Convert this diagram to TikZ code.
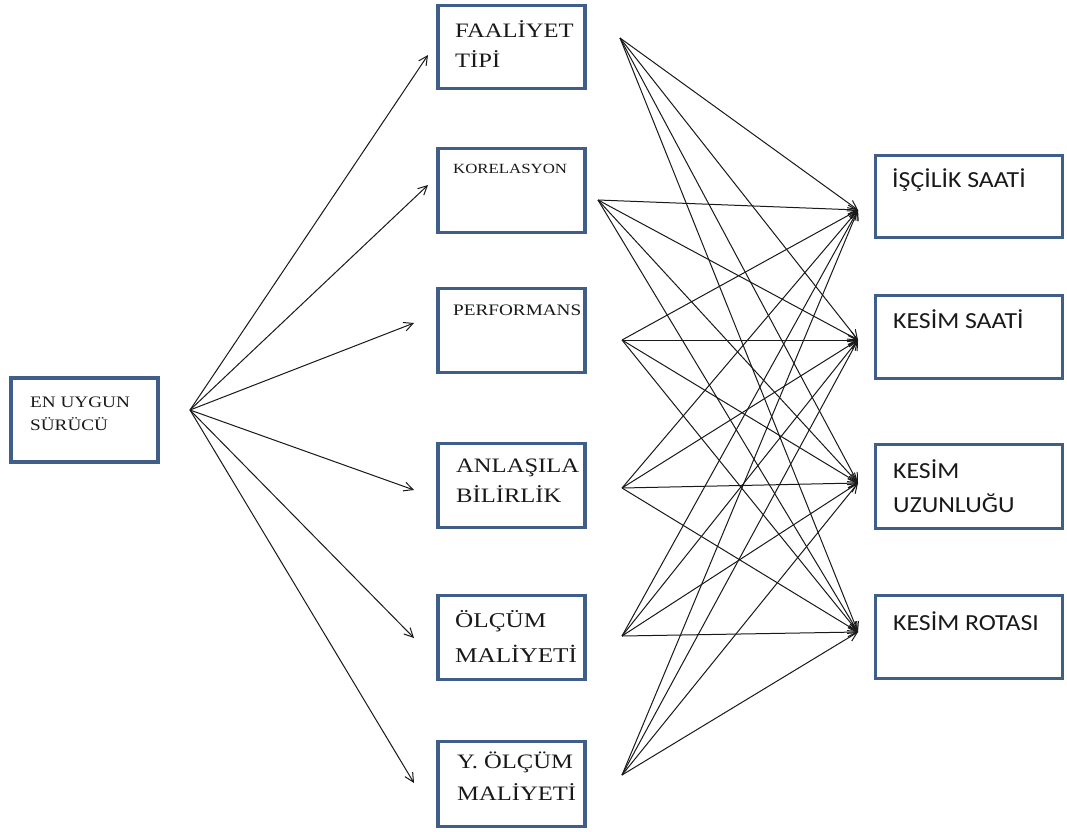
\documentclass[tikz,border=0pt]{standalone}
\usepackage{fontspec}
\usetikzlibrary{arrows.meta}
\newfontfamily\serifw[FakeStretch=1.2]{Liberation Serif}
\newfontfamily\sansw[FakeStretch=1.12]{Carlito}
\definecolor{boxblue}{HTML}{3F5E88}
\begin{document}
\begin{tikzpicture}[x=1pt,y=-1pt,
  box/.style={draw=boxblue,line width=3.6pt,fill=white,inner sep=0pt},
  txt/.style={anchor=base west,inner sep=0pt,text=black!90},
  con/.style={line width=1pt,draw=black!90,-{Straight Barb[length=9pt,width=9pt,line width=1pt]}}]
\useasboundingbox (0,0) rectangle (1067,831);
\fill[white] (0,0) rectangle (1067,831);
% boxes
\node[box,minimum width=147pt,minimum height=84pt] (en) at (84.5,420) {};
\node[box,minimum width=147pt,minimum height=83pt] (fa) at (511.5,47) {};
\node[box,minimum width=147pt,minimum height=84pt] (ko) at (511.5,190.5) {};
\node[box,minimum width=147pt,minimum height=84pt] (pe) at (511.5,330.5) {};
\node[box,minimum width=147pt,minimum height=84pt] (an) at (511.5,485.5) {};
\node[box,minimum width=147pt,minimum height=84pt] (ol) at (511.5,637.5) {};
\node[box,minimum width=147pt,minimum height=85pt] (yo) at (511.5,784) {};
\node[box,minimum width=187pt,minimum height=82pt] (is) at (969,196.5) {};
\node[box,minimum width=187pt,minimum height=83pt] (ks) at (969,337) {};
\node[box,minimum width=187pt,minimum height=84pt] (ku) at (969,486.5) {};
\node[box,minimum width=187pt,minimum height=83pt] (kr) at (969,637) {};
% texts
\node[txt,font=\serifw\fontsize{16}{18}\selectfont] (en1) at (30,407) {EN UYGUN};
\node[txt,font=\serifw\fontsize{16}{18}\selectfont] (en2) at (30,430) {SÜRÜCÜ};
\node[txt,font=\serifw\fontsize{20.5}{24}\selectfont] (fa1) at (455,37) {FAALİYET};
\node[txt,font=\serifw\fontsize{20.5}{24}\selectfont] (fa2) at (455,67) {TİPİ};
\node[txt,font=\serifw\fontsize{14}{16}\selectfont] (ko1) at (453,173) {KORELASYON};
\node[txt,font=\serifw\fontsize{16}{18}\selectfont] (pe1) at (453,315) {PERFORMANS};
\node[txt,font=\serifw\fontsize{20.5}{24}\selectfont] (an1) at (456,472) {ANLAŞILA};
\node[txt,font=\serifw\fontsize{20.5}{24}\selectfont] (an2) at (456,502) {BİLİRLİK};
\node[txt,font=\serifw\fontsize{21}{24}\selectfont] (ol1) at (455,627) {ÖLÇÜM};
\node[txt,font=\serifw\fontsize{21}{24}\selectfont] (ol2) at (455,662) {MALİYETİ};
\node[txt,font=\serifw\fontsize{20.5}{24}\selectfont] (yo1) at (457,768) {Y. ÖLÇÜM};
\node[txt,font=\serifw\fontsize{20.5}{24}\selectfont] (yo2) at (457,800) {MALİYETİ};
\node[txt,font=\sansw\fontsize{23}{26}\selectfont] (is1) at (892,187) {İŞÇİLİK SAATİ};
\node[txt,font=\sansw\fontsize{23}{26}\selectfont] (ks1) at (893,328) {KESİM SAATİ};
\node[txt,font=\sansw\fontsize{23}{26}\selectfont] (ku1) at (893,478) {KESİM};
\node[txt,font=\sansw\fontsize{23}{26}\selectfont] (ku2) at (893,512) {UZUNLUĞU};
\node[txt,font=\sansw\fontsize{23}{26}\selectfont] (kr1) at (893,630) {KESİM ROTASI};
% fan coordinates
\coordinate (o) at (190,410);
\coordinate (m1) at (428,55);
\coordinate (m2) at (428,185);
\coordinate (m3) at (414,323);
\coordinate (m4) at (414,490);
\coordinate (m5) at (414,638);
\coordinate (m6) at (414,783);
\coordinate (s1) at (620,38);
\coordinate (s2) at (598,200);
\coordinate (s3) at (622,340);
\coordinate (s4) at (622,488);
\coordinate (s5) at (622,636);
\coordinate (s6) at (622,775);
\coordinate (t1) at (858,210);
\coordinate (t2) at (858,340);
\coordinate (t3) at (858,483);
\coordinate (t4) at (858,632);
\foreach \m in {m1,m2,m3,m4,m5,m6} \draw[con] (o) -- (\m);
\foreach \s in {s1,s2,s3,s4,s5,s6}
  \foreach \t in {t1,t2,t3,t4}
    \draw[con] (\s) -- (\t);
\end{tikzpicture}
\end{document}
